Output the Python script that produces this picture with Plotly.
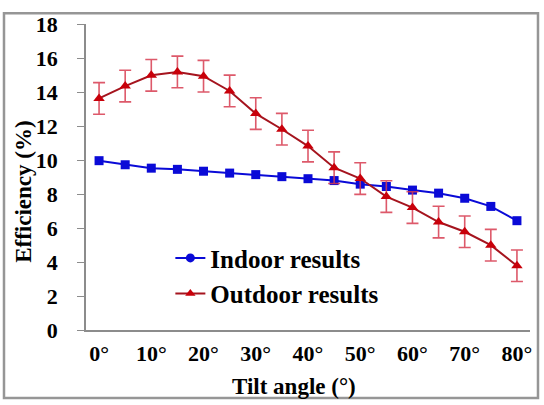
import plotly.graph_objects as go

tilt = [0, 5, 10, 15, 20, 25, 30, 35, 40, 45, 50, 55, 60, 65, 70, 75, 80]
indoor = [9.96, 9.72, 9.52, 9.45, 9.34, 9.23, 9.14, 9.02, 8.90, 8.79, 8.58, 8.44, 8.23, 8.05, 7.75, 7.27, 6.43]
outdoor = [13.62, 14.35, 14.98, 15.18, 14.93, 14.06, 12.73, 11.81, 10.82, 9.55, 8.91, 7.85, 7.20, 6.35, 5.78, 4.99, 3.78]
outdoor_err = [0.93, 0.93, 0.93, 0.93, 0.93, 0.93, 0.93, 0.93, 0.93, 0.93, 0.93, 0.93, 0.93, 0.93, 0.93, 0.93, 0.93]
xtick_vals = [0, 10, 20, 30, 40, 50, 60, 70, 80]
xtick_text = ["0°", "10°", "20°", "30°", "40°", "50°", "60°", "70°", "80°"]
ytick_vals = [0, 2, 4, 6, 8, 10, 12, 14, 16, 18]

FONT = "Liberation Serif"
BLUE = "rgb(10,10,215)"
RED_LINE = "rgb(165,20,30)"
RED_MARK = "rgb(200,0,10)"
ERR = "rgba(215,60,80,0.85)"

fig = go.Figure()
fig.add_trace(go.Scatter(
    x=tilt, y=indoor, mode="lines+markers", showlegend=False,
    line=dict(color=BLUE, width=2),
    marker=dict(symbol="square", size=9, color=BLUE),
))
fig.add_trace(go.Scatter(
    x=tilt, y=outdoor, mode="lines+markers", showlegend=False,
    line=dict(color=RED_LINE, width=2),
    marker=dict(symbol="triangle-up", size=10, color=RED_MARK),
    error_y=dict(type="data", array=outdoor_err, visible=True, color=ERR, thickness=1.6, width=6),
))
# legend entries
fig.add_trace(go.Scatter(
    x=[None], y=[None], mode="lines+markers", name="Indoor results",
    line=dict(color=BLUE, width=2), marker=dict(symbol="circle", size=9, color=BLUE),
))
fig.add_trace(go.Scatter(
    x=[None], y=[None], mode="lines+markers", name="Outdoor results",
    line=dict(color=RED_LINE, width=2), marker=dict(symbol="triangle-up", size=9, color=RED_MARK),
))

fig.update_layout(
    width=544, height=405,
    margin=dict(l=86, r=14, t=15, b=75),
    paper_bgcolor="white", plot_bgcolor="white",
    font=dict(family=FONT, size=22, color="black"),
    legend=dict(
        x=0.19, y=0.31, xanchor="left", yanchor="top",
        bgcolor="rgba(0,0,0,0)",
        font=dict(family=FONT, size=25, color="black", weight="bold"),
    ),
    xaxis=dict(
        range=[-2.5, 82.5], tickvals=xtick_vals, ticktext=xtick_text,
        showline=True, linecolor="rgb(140,140,140)", linewidth=1.5,
        showgrid=False, zeroline=False, ticks="",
        tickfont=dict(family=FONT, size=22, color="black", weight="bold"),
        ticklabelstandoff=3,
    ),
    yaxis=dict(
        range=[0, 18], tickvals=ytick_vals,
        showline=True, linecolor="rgb(140,140,140)", linewidth=1.5,
        showgrid=False, zeroline=False, ticks="outside", ticklen=7,
        tickcolor="rgb(140,140,140)",
        tickfont=dict(family=FONT, size=22, color="black", weight="bold"),
        ticklabelstandoff=15,
    ),
    annotations=[
        dict(text="Efficiency (%)", xref="paper", yref="paper", x=-0.14, y=0.451,
             textangle=-90, showarrow=False, xanchor="center", yanchor="middle",
             font=dict(family=FONT, size=23, color="black", weight="bold")),
        dict(text="Tilt angle (°)", xref="paper", yref="paper", x=0.468, y=-0.185,
             showarrow=False, xanchor="center", yanchor="middle",
             font=dict(family=FONT, size=23, color="black", weight="bold")),
    ],
    shapes=[
        dict(type="rect", xref="paper", yref="paper", x0=-0.1847, x1=1.018, y0=-0.222, y1=1.035,
             line=dict(color="rgb(150,150,150)", width=2.5), fillcolor="rgba(0,0,0,0)"),
    ],
)

fig.write_html("out.html", config={"displayModeBar": False},
               post_script="document.body.style.margin='0';")
